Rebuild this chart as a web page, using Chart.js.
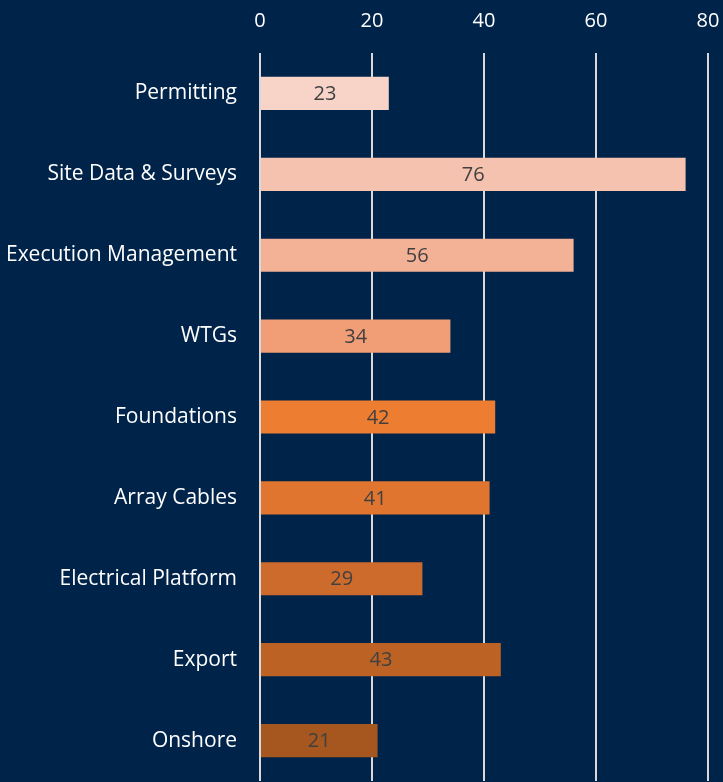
<!DOCTYPE html>
<html>
<head>
<meta charset="utf-8">
<script src="https://cdn.jsdelivr.net/npm/chart.js@4"></script>
<style>
  html, body { margin: 0; padding: 0; background: #00234a; overflow: hidden; }
  canvas { display: block; }
</style>
</head>
<body>
<canvas id="barCanvas" width="723" height="782"></canvas>
<script>
// categories + values
const categories = [
    "Permitting",
    "Site Data & Surveys",
    "Execution Management",
    "WTGs",
    "Foundations",
    "Array Cables",
    "Electrical Platform",
    "Export",
    "Onshore",
];
const values = [23, 76, 56, 34, 42, 41, 29, 43, 21];
const barColors = [
    "rgb(248, 212, 200)",
    "rgb(245, 194, 175)",
    "rgb(243, 177, 150)",
    "rgb(241, 157, 118)",
    "rgb(237, 125, 49)",
    "rgb(223, 117, 47)",
    "rgb(205, 107, 44)",
    "rgb(187, 98, 36)",
    "rgb(166, 86, 31)",
];
const xTicks = [0, 20, 40, 60, 80];

const fontFamily = "'Open Sans', Lato, sans-serif";

// labels in the middle of each bar
const barLabels = {
    id: "barLabels",
    afterDatasetsDraw(chart) {
        const ctx = chart.ctx;
        const meta = chart.getDatasetMeta(0);
        ctx.save();
        ctx.font = "20px " + fontFamily;
        ctx.fillStyle = "#404040";
        ctx.textAlign = "center";
        ctx.textBaseline = "middle";
        meta.data.forEach((bar, i) => {
            const cx = (bar.x + bar.base) / 2;
            ctx.fillText(values[i], cx, bar.y + 1);
        });
        ctx.restore();
    },
};

const barCanvas = document.getElementById("barCanvas");

const barChart = new Chart(barCanvas, {
    type: "bar",
    data: {
        labels: categories,
        datasets: [
            {
                label: "Count",
                data: values,
                backgroundColor: barColors,
                borderWidth: 0,
                barPercentage: 0.41,
                categoryPercentage: 1,
            },
        ],
    },
    options: {
        indexAxis: "y",
        responsive: false,
        animation: false,
        devicePixelRatio: 1,
        layout: { padding: { top: 0, right: 15, bottom: 1, left: 0 } },
        plugins: {
            legend: { display: false },
            tooltip: { enabled: false },
        },
        scales: {
            x: {
                position: "top",
                min: 0,
                max: 80,
                afterBuildTicks(scale) {
                    scale.ticks = xTicks.map(v => ({ value: v }));
                },
                afterFit(scale) {
                    scale.height = 53;
                    scale.paddingLeft = 0;
                    scale.paddingRight = 0;
                },
                grid: {
                    color: "#d9d9d9",
                    lineWidth: 2,
                    drawTicks: false,
                },
                border: { display: false },
                ticks: {
                    color: "#ffffff",
                    padding: 20,
                    font: { family: fontFamily, size: 20 },
                },
            },
            y: {
                afterFit(scale) {
                    scale.width = 260;
                    scale.paddingTop = 0;
                    scale.paddingBottom = 0;
                },
                grid: { display: false },
                border: { display: false },
                ticks: {
                    color: "#ffffff",
                    padding: 15,
                    font: { family: fontFamily, size: 21 },
                },
            },
        },
    },
    plugins: [barLabels],
});
</script>
</body>
</html>
